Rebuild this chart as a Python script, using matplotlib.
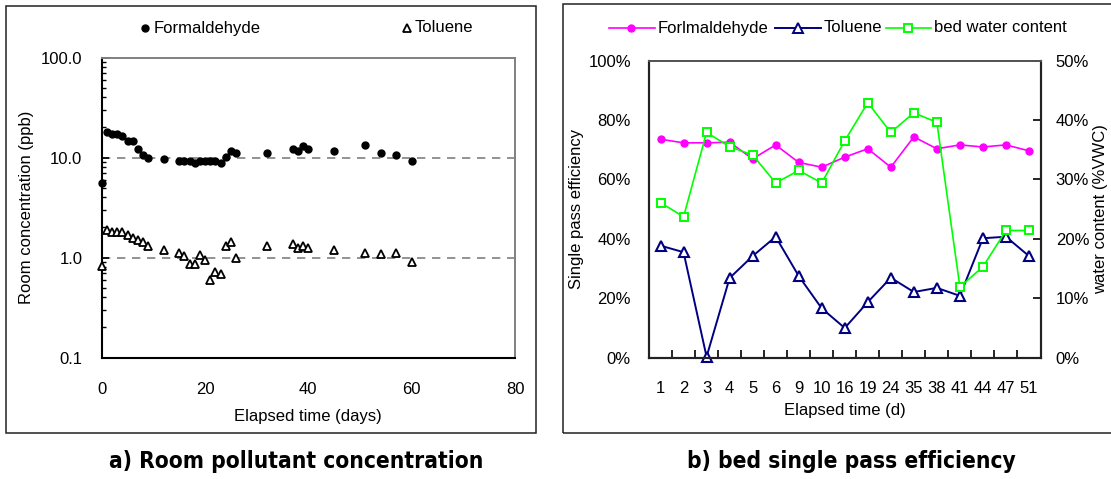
import matplotlib
matplotlib.use("Agg")
import matplotlib.pyplot as plt
from matplotlib.patches import Rectangle
from matplotlib.lines import Line2D
from matplotlib import font_manager
import numpy as np

plt.rcParams['font.family'] = ['Liberation Sans', 'DejaVu Sans']

# ---------------- data: panel a ----------------
form_days = [0, 1, 2, 3, 4, 5, 6, 7, 8, 9, 12, 15, 16, 17, 18, 19, 20, 21, 22, 23,
             24, 25, 26, 32, 37, 38, 39, 40, 45, 51, 54, 57, 60]
form_conc = [5.6, 17.8, 17.0, 17.0, 16.4, 14.6, 14.7, 12.3, 10.7, 10.0, 9.6, 9.2, 9.2, 9.2,
             8.8, 9.2, 9.2, 9.2, 9.2, 8.8, 10.1, 11.7, 11.1, 11.1, 12.2, 11.6, 13.0, 12.2,
             11.6, 13.4, 11.1, 10.5, 9.2]
tol_days = [0, 1, 2, 3, 4, 5, 6, 7, 8, 9, 12, 15, 16, 17, 18, 19, 20, 21, 22, 23,
            24, 25, 26, 32, 37, 38, 39, 40, 45, 51, 54, 57, 60]
tol_conc = [0.82, 1.87, 1.80, 1.80, 1.80, 1.67, 1.57, 1.49, 1.43, 1.31, 1.18, 1.12, 1.04,
            0.86, 0.86, 1.05, 0.94, 0.59, 0.72, 0.68, 1.31, 1.43, 0.98, 1.31, 1.36, 1.25,
            1.31, 1.25, 1.18, 1.12, 1.08, 1.12, 0.91]
ref_levels = [10, 1]
a_yticks = [0.1, 1, 10, 100]
a_yticklabels = ["0.1", "1.0", "10.0", "100.0"]
a_xticks = [0, 20, 40, 60, 80]

# ---------------- data: panel b ----------------
b_days = ["1", "2", "3", "4", "5", "6", "9", "10", "16", "19", "24", "35", "38", "41",
          "44", "47", "51"]
b_form = [73.5, 72.3, 72.3, 72.5, 66.9, 71.6, 65.7, 64.1, 67.5, 70.3, 64.1, 74.3, 70.3,
          71.6, 70.9, 71.6, 69.6]
b_tol = [37.7, 35.5, 0.3, 26.8, 34.2, 40.7, 27.5, 16.6, 10.0, 18.7, 26.9, 22.1, 23.5,
         20.8, 40.2, 40.7, 34.2]
b_water = [26.1, 23.7, 37.9, 35.5, 34.1, 29.4, 31.5, 29.4, 36.5, 42.9, 37.9, 41.2, 39.6,
           11.9, 15.3, 21.4, 21.4]
b_left_ticks = [0, 20, 40, 60, 80, 100]
b_right_ticks = [0, 10, 20, 30, 40, 50]

W, H = 1111, 479
fig = plt.figure(figsize=(W / 100, H / 100), dpi=100)


def rect(x0, y0, x1, y1):
    return [x0 / W, 1 - y1 / H, (x1 - x0) / W, (y1 - y0) / H]


def fx(x):
    return x / W


def fy(y):
    return 1 - y / H


FS = 12

# pick a condensed (preferably bold) sans face for the captions if one is installed
cands = []
for f in font_manager.fontManager.ttflist:
    n = f.fname.lower()
    st = str(f.stretch).lower()
    if not ('narrow' in f.name.lower() or 'condensed' in f.name.lower()
            or 'condensed' in n or 'narrow' in n
            or st in ('condensed', 'semi-condensed', 'extra-condensed')):
        continue
    if any(k in n for k in ('oblique', 'italic', 'serif', 'mono')):
        continue
    cands.append(f)


def rank(f):
    n = f.fname.lower()
    score = 0
    if 'liberation' in n:
        score -= 10
    if 'bold' in n:
        score -= 2
    return score


if cands:
    cands.sort(key=rank)
    is_bold = 'bold' in cands[0].fname.lower()
    cap_prop = font_manager.FontProperties(fname=cands[0].fname,
                                           size=16.3 if is_bold else 17.5)
else:
    cap_prop = font_manager.FontProperties(family=['Liberation Sans', 'DejaVu Sans'],
                                           size=16)

# frames around panels
for (x0, y0, x1, y1) in [(6, 6, 536, 433), (563, 4, 1116, 433)]:
    fig.patches.append(Rectangle((x0 / W, 1 - y1 / H), (x1 - x0) / W, (y1 - y0) / H,
                                 transform=fig.transFigure, fill=False,
                                 edgecolor='#222222', linewidth=1.1))

# ---------------- panel a ----------------
axa = fig.add_axes(rect(101.7, 57.5, 515, 357.5))
axa.set_yscale('log')
axa.set_ylim(0.1, 100)
axa.set_xlim(0, 80)
for lv in ref_levels:
    axa.axhline(lv, color='#808080', linestyle=(0, (5, 4)), linewidth=1.2, zorder=1)
axa.plot(form_days, form_conc, linestyle='none', marker='o', markersize=5.0,
         color='black', zorder=3, clip_on=False)
axa.plot(tol_days, tol_conc, linestyle='none', marker='^', markersize=5.8,
         markerfacecolor='white', markeredgecolor='black', markeredgewidth=1.3,
         zorder=3, clip_on=False)
axa.set_yticks(a_yticks)
axa.set_yticklabels(a_yticklabels)
axa.set_xticks(a_xticks)
axa.yaxis.set_minor_locator(matplotlib.ticker.LogLocator(base=10, subs=np.arange(2, 10)))
axa.yaxis.set_minor_formatter(matplotlib.ticker.NullFormatter())
axa.tick_params(axis='y', which='major', direction='in', length=5, width=1.2,
                labelsize=FS, pad=14)
axa.tick_params(axis='y', which='minor', direction='in', length=3, width=1.0)
axa.tick_params(axis='x', which='both', length=0, labelsize=FS, pad=18)
for s in ['left', 'bottom']:
    axa.spines[s].set_color('black')
    axa.spines[s].set_linewidth(1.5)
for s in ['top', 'right']:
    axa.spines[s].set_color('#808080')
    axa.spines[s].set_linewidth(1.4)
axa.set_ylabel("Room concentration (ppb)", fontsize=FS, labelpad=5)
axa.set_xlabel("Elapsed time (days)", fontsize=FS, labelpad=8)

# legend a
fig.lines.append(Line2D([fx(145)], [fy(28)], transform=fig.transFigure, marker='o',
                        markersize=5.0, color='black', linestyle='none'))
fig.text(fx(154), fy(28), "Formaldehyde", fontsize=FS, va='center', ha='left')
fig.lines.append(Line2D([fx(407)], [fy(28)], transform=fig.transFigure, marker='^',
                        markersize=5.8, markerfacecolor='white', markeredgecolor='black',
                        markeredgewidth=1.3, linestyle='none'))
fig.text(fx(415), fy(28), "Toluene", fontsize=FS, va='center', ha='left')

# ---------------- panel b ----------------
axb = fig.add_axes(rect(649, 60.5, 1040.5, 357.7))
xpos = np.arange(len(b_days))
axb.set_xlim(-0.5, len(b_days) - 0.5)
axb.set_ylim(0, 100)
axw = axb.twinx()
axw.set_ylim(0, 50)
axb.plot(xpos, b_form, color='#FF00FF', linewidth=1.2, marker='o', markersize=5,
         zorder=3)
axb.plot(xpos, b_tol, color='#000080', linewidth=1.4, marker='^', markersize=6.8,
         markerfacecolor='white', markeredgecolor='#000080', markeredgewidth=1.5,
         zorder=3, clip_on=False)
axw.plot(xpos, b_water, color='#00FF00', linewidth=1.2, marker='s', markersize=5.5,
         markerfacecolor='white', markeredgecolor='#00FF00', markeredgewidth=1.4,
         zorder=3)
axb.set_yticks(b_left_ticks)
axb.set_yticklabels([f"{v}%" for v in b_left_ticks])
axw.set_yticks(b_right_ticks)
axw.set_yticklabels([f"{v}%" for v in b_right_ticks])
axb.set_xticks(xpos)
axb.set_xticklabels(b_days)
axb.set_xticks(np.arange(0.5, len(b_days) - 1, 1.0), minor=True)
axb.tick_params(axis='x', which='major', length=0, labelsize=FS, pad=17)
axb.tick_params(axis='x', which='minor', direction='in', length=6, width=1.2)
axb.tick_params(axis='y', which='major', length=0, labelsize=FS, pad=13)
axw.tick_params(axis='y', which='major', direction='in', length=6, width=1.2,
                labelsize=FS, pad=11)
for ax in (axb, axw):
    for s in ['left', 'bottom', 'right']:
        ax.spines[s].set_color('#222222')
        ax.spines[s].set_linewidth(1.5)
    ax.spines['top'].set_color('#555555')
    ax.spines['top'].set_linewidth(1.4)
axb.set_ylabel("Single pass efficiency", fontsize=FS, labelpad=3)
axw.set_ylabel("water content (%VWC)", fontsize=FS, labelpad=3)
axb.set_xlabel("Elapsed time (d)", fontsize=FS, labelpad=5)

# legend b
leg_items = [
    (609, 631, 658, "Forlmaldehyde", dict(color='#FF00FF', marker='o', markersize=5,
                                           linewidth=1.2)),
    (775, 798, 824, "Toluene", dict(color='#000080', marker='^', markersize=6.5,
                                    markerfacecolor='white', markeredgewidth=1.4,
                                    linewidth=1.4)),
    (886, 908, 934, "bed water content", dict(color='#00FF00', marker='s', markersize=5.2,
                                              markerfacecolor='white',
                                              markeredgewidth=1.4, linewidth=1.2)),
]
for x0, xm, xt, label, style in leg_items:
    fig.lines.append(Line2D([fx(x0), fx(xt - 3)], [fy(28), fy(28)],
                            transform=fig.transFigure, linestyle='-',
                            color=style['color'], linewidth=style['linewidth']))
    st = dict(style)
    st.pop('linewidth')
    fig.lines.append(Line2D([fx(xm)], [fy(28)], transform=fig.transFigure,
                            linestyle='none', **st))
    fig.text(fx(xt), fy(28), label, fontsize=FS, va='center', ha='left')

# captions
fig.text(fx(296), fy(468), "a) Room pollutant concentration", fontproperties=cap_prop,
         ha='center', va='baseline')
fig.text(fx(851), fy(468), "b) bed single pass efficiency", fontproperties=cap_prop,
         ha='center', va='baseline')

fig.savefig("out.png", dpi=100)
